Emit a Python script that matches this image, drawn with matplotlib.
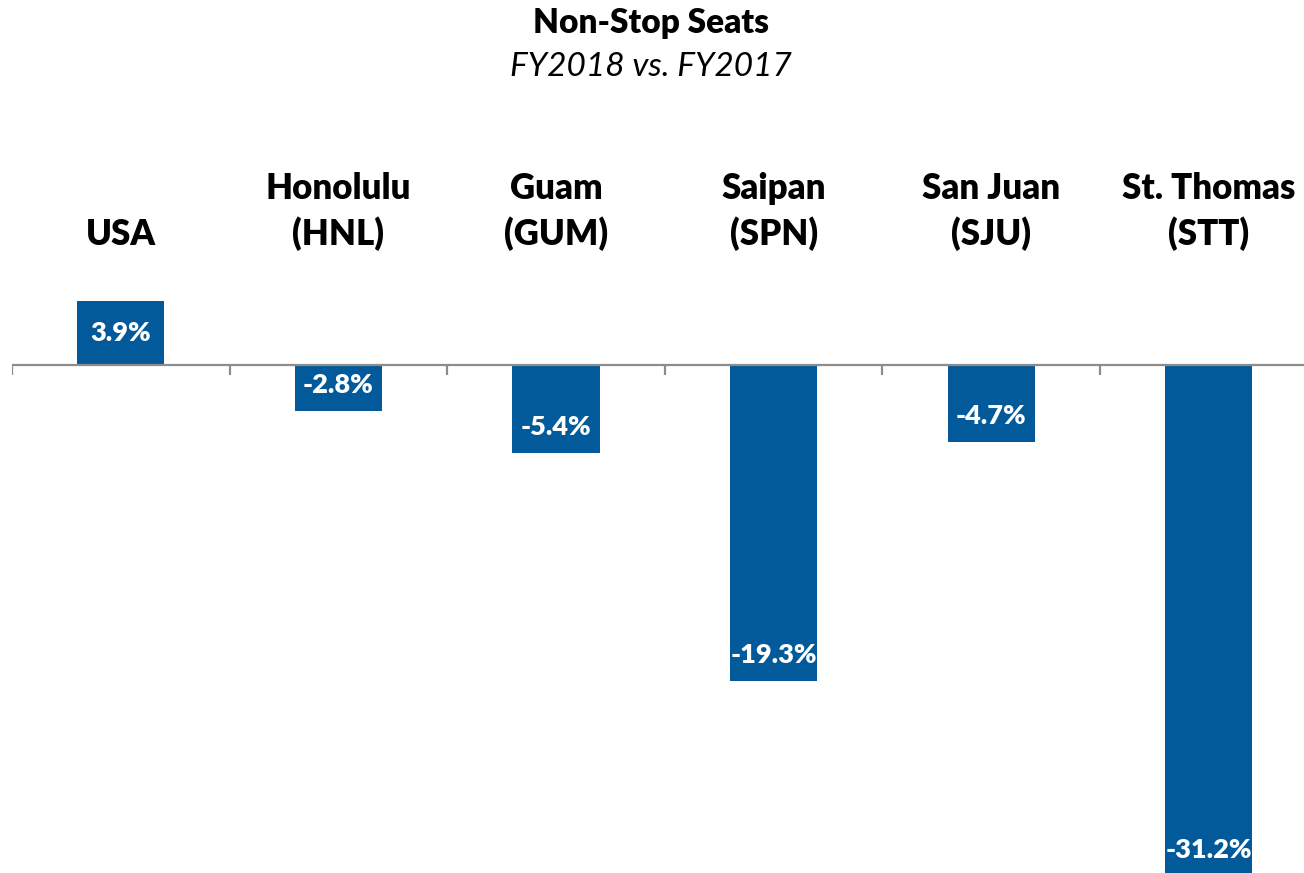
import numpy as np
import matplotlib.pyplot as plt

# ------------------------------------------------------------
# Données
# ------------------------------------------------------------
categories = ["USA", "Honolulu\n(HNL)", "Guam\n(GUM)", "Saipan\n(SPN)",
              "San Juan\n(SJU)", "St. Thomas\n(STT)"]
valeurs = [3.9, -2.8, -5.4, -19.3, -4.7, -31.2]

couleur_barre = "#035a9b"
police = ["Lato", "DejaVu Sans"]

# ------------------------------------------------------------
# Figure
# ------------------------------------------------------------
fig = plt.figure(figsize=(13.04, 8.73), dpi=100)
ax = fig.add_axes([12 / 1304, 0, 1292 / 1304, 1])

x = np.arange(len(categories))
barres = ax.bar(x, valeurs, width=0.4, color=couleur_barre, zorder=2)

ax.set_xlim(-0.5, -0.5 + 1292 / 217.6)
ax.set_ylim(-873 / 16.37 + 365 / 16.37, 365 / 16.37)

# axe horizontal + graduations
ax.axhline(0, color="#8c8c8c", linewidth=1.6, zorder=3)
for i in range(len(categories)):
    ax.plot([i - 0.5, i - 0.5], [0, -10 / 16.37], color="#8c8c8c",
            linewidth=1.6, zorder=3, solid_capstyle="butt")

for s in ax.spines.values():
    s.set_visible(False)
ax.set_xticks([])
ax.set_yticks([])

# étiquettes de catégories au-dessus
for i, lab in enumerate(categories):
    ax.text(i, 114 / 16.37, lab, ha="center", va="bottom", fontsize=25,
            fontweight="heavy", family=police, linespacing=1.38)

# étiquettes de valeurs dans les barres
for i, v in enumerate(valeurs):
    decal = -23 if v > 0 else 18.7
    ax.annotate(f"{v:.1f}%", (i, v), xytext=(0, decal),
                textcoords="offset points", ha="center", va="center",
                color="white", fontsize=19.5, fontweight="heavy", family=police,
                zorder=4, annotation_clip=False)

# titres
fig.text(651 / 1304, 1 - 23 / 873, "Non-Stop Seats", ha="center",
         va="center", fontsize=24, fontweight="heavy", family=police)
fig.text(651 / 1304, 1 - 67 / 873, "FY2018 vs. FY2017", ha="center",
         va="center", fontsize=24, style="italic", family=police)

fig.savefig("out.png", dpi=100)
